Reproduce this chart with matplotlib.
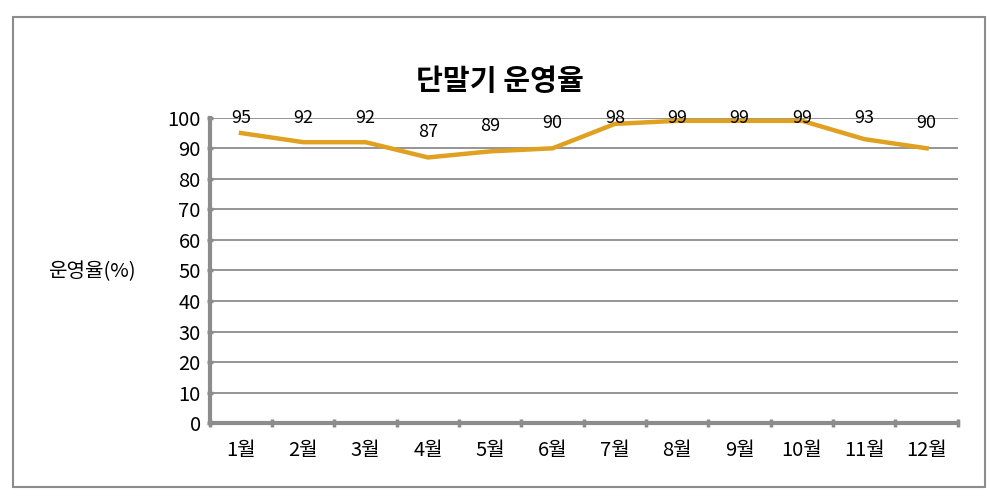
import matplotlib
matplotlib.use("Agg")
import matplotlib.pyplot as plt
import matplotlib.patches as mpatches
import numpy as np

plt.rcParams['font.family'] = ['Noto Sans CJK KR', 'DejaVu Sans']

# 월별 단말기 운영율
months = ['1월', '2월', '3월', '4월', '5월', '6월',
          '7월', '8월', '9월', '10월', '11월', '12월']
rates = [95, 92, 92, 87, 89, 90, 98, 99, 99, 99, 93, 90]

fig = plt.figure(figsize=(10.04, 4.99), dpi=100)
ax = fig.add_axes([0.209, 0.152, 0.745, 0.612])

x = np.arange(len(months))
ax.plot(x, rates, color='#E0A020', lw=3.2, solid_joinstyle='miter', zorder=3)

# data labels above each point, kept inside the plot area (like Excel does)
for xi, v in zip(x, rates):
    ax.text(xi, min(v + 8.3, 100), str(v), ha='center', va='center',
            fontsize=13, color='black', zorder=4)

ax.set_xlim(-0.5, len(months) - 0.5)
ax.set_ylim(0, 100)
ax.set_yticks(range(0, 101, 10))
ax.tick_params(axis='y', labelsize=14.5, length=5, width=2.5, color='#8c8c8c',
               direction='inout', pad=4)
ax.set_xticks(x)
ax.set_xticklabels(months)
ax.tick_params(axis='x', which='major', length=0, labelsize=14.5, pad=12)
ax.set_xticks(np.arange(-0.5, len(months)), minor=True)
ax.tick_params(axis='x', which='minor', length=6, width=2.5, color='#8c8c8c',
               direction='inout')

ax.grid(axis='y', color='#8c8c8c', lw=1.3)
ax.set_axisbelow(True)
for s in ['top', 'right']:
    ax.spines[s].set_visible(False)
for s in ['left', 'bottom']:
    ax.spines[s].set_color('#8c8c8c')
    ax.spines[s].set_linewidth(3)

fig.text(0.135, 0.456, '운영율(%)', ha='right', va='center', fontsize=14.5)
fig.text(0.498, 0.838, '단말기 운영율', ha='center', va='center',
         fontsize=21, fontweight='bold')

# outer border
border = mpatches.Rectangle((0.013, 0.024), 0.968, 0.942, transform=fig.transFigure,
                            fill=False, edgecolor='#8c8c8c', lw=1.5)
fig.patches.append(border)

fig.savefig('out.png', dpi=100)
